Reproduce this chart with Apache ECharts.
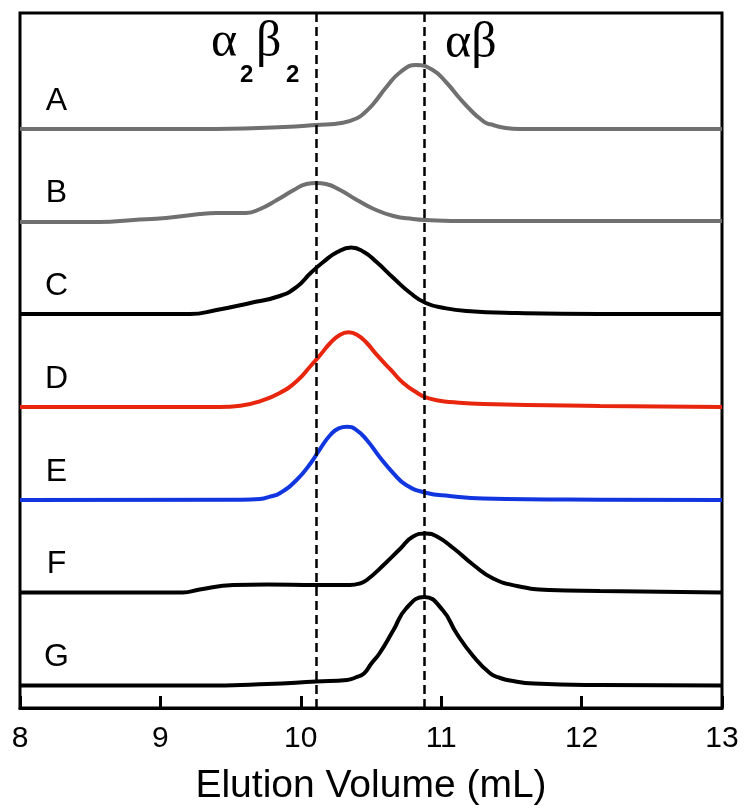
<!DOCTYPE html>
<html>
<head>
<meta charset="utf-8">
<script src="https://cdn.jsdelivr.net/npm/echarts@6/dist/echarts.min.js"></script>
<style>
  html, body { margin: 0; padding: 0; background: #fff; }
  #main { width: 752px; height: 811px; }
</style>
</head>
<body>
<div id="main"></div>
<script>
// elution traces, [volume mL, signal above own baseline]
var traceA = [[8, 0], [9.28, 0], [9.88, 0.02], [10.11, 0.04], [10.30, 0.063], [10.40, 0.107], [10.46, 0.17], [10.52, 0.257], [10.61, 0.42], [10.71, 0.57], [10.82, 0.64], [10.94, 0.59], [11.04, 0.46], [11.13, 0.31], [11.23, 0.16], [11.28, 0.1], [11.32, 0.06], [11.37, 0.04], [11.42, 0.02], [11.56, 0], [13, 0]];
var traceB = [[8, -0.01], [8.57, -0.01], [8.81, 0.01], [9.04, 0.03], [9.28, 0.07], [9.40, 0.08], [9.61, 0.08], [9.71, 0.12], [9.83, 0.21], [9.95, 0.31], [10.04, 0.37], [10.11, 0.38], [10.18, 0.37], [10.28, 0.31], [10.40, 0.21], [10.52, 0.12], [10.66, 0.05], [10.80, 0.02], [10.89, 0.01], [11.18, 0], [13, 0]];
var traceC = [[8, 0], [8.93, 0], [9.21, 0], [9.40, 0.04], [9.64, 0.11], [9.85, 0.18], [9.97, 0.27], [10.07, 0.41], [10.16, 0.52], [10.26, 0.62], [10.36, 0.665], [10.45, 0.62], [10.54, 0.52], [10.66, 0.36], [10.78, 0.21], [10.89, 0.11], [11.02, 0.06], [11.18, 0.03], [11.54, 0.01], [12.13, 0], [13, 0]];
var traceD = [[8, 0], [8.93, 0], [9.42, 0], [9.57, 0.013], [9.71, 0.057], [9.85, 0.14], [9.97, 0.257], [10.07, 0.41], [10.14, 0.523], [10.21, 0.64], [10.28, 0.723], [10.34, 0.747], [10.40, 0.723], [10.47, 0.64], [10.54, 0.523], [10.64, 0.373], [10.73, 0.24], [10.83, 0.14], [10.89, 0.097], [10.99, 0.063], [11.06, 0.05], [11.30, 0.03], [12.13, 0.01], [13, 0]];
var traceE = [[8, 0], [9.57, 0.003], [9.71, 0.01], [9.78, 0.033], [9.85, 0.067], [9.97, 0.2], [10.07, 0.367], [10.14, 0.517], [10.21, 0.65], [10.27, 0.717], [10.33, 0.733], [10.39, 0.707], [10.47, 0.6], [10.56, 0.433], [10.66, 0.267], [10.75, 0.15], [10.89, 0.073], [11.06, 0.04], [11.30, 0.015], [12.13, 0.003], [13, 0]];
var traceF = [[8, 0], [8.57, 0], [9.16, 0], [9.28, 0.03], [9.52, 0.075], [9.76, 0.08], [10.11, 0.075], [10.35, 0.075], [10.42, 0.09], [10.47, 0.125], [10.59, 0.275], [10.71, 0.44], [10.80, 0.56], [10.89, 0.59], [10.97, 0.56], [11.09, 0.44], [11.23, 0.275], [11.37, 0.14], [11.54, 0.065], [11.77, 0.025], [12.13, 0.015], [13, 0]];
var traceG = [[8, 0], [9.28, 0], [9.76, 0.015], [10.11, 0.04], [10.33, 0.055], [10.39, 0.08], [10.45, 0.12], [10.50, 0.215], [10.56, 0.32], [10.66, 0.555], [10.75, 0.77], [10.88, 0.885], [11.01, 0.755], [11.11, 0.52], [11.23, 0.29], [11.35, 0.12], [11.42, 0.075], [11.49, 0.05], [11.66, 0.02], [12.13, 0.005], [13, 0]];

var names = ["A", "B", "C", "D", "E", "F", "G"];
var offsets = [5.79, 4.87, 3.94, 3.01, 2.08, 1.155, 0.225];
var peakLines = [10.11, 10.88]; // α2β2 and αβ
var xTicks = [8, 9, 10, 11, 12, 13];

var traces = [traceA, traceB, traceC, traceD, traceE, traceF, traceG];
var colors = ["#707070", "#707070", "#000000", "#e8260e", "#1136e0", "#000000", "#000000"];
var sans = "Liberation Sans, Arial, sans-serif";
var serif = "Liberation Serif, Times New Roman, serif";

var chart = echarts.init(document.getElementById("main"));

var series = [];
traces.forEach(function (tr, i) {
  var shifted = tr.map(function (p) { return [p[0], p[1] + offsets[i]]; });
  series.push({
    name: names[i],
    type: "line",
    data: shifted,
    smooth: 0.5,
    symbol: "none",
    lineStyle: { color: colors[i], width: 4 },
    silent: true,
    z: 3
  });
});

// trace letters
series.push({
  type: "scatter",
  symbolSize: 0,
  silent: true,
  itemStyle: { opacity: 1 },
  data: names.map(function (n, i) { return { value: [8.26, offsets[i] + 0.28], name: n }; }),
  label: {
    show: true,
    position: "inside",
    formatter: "{b}",
    color: "#000",
    textBorderWidth: 0,
    fontFamily: sans,
    fontSize: 32
  }
});

// dashed reference lines
series.push({
  type: "line",
  data: [],
  markLine: {
    silent: true,
    symbol: "none",
    label: { show: false },
    lineStyle: { color: "#000", type: [9, 5], width: 2.5 },
    data: peakLines.map(function (v) { return { xAxis: v }; })
  }
});

var option = {
  animation: false,
  backgroundColor: "#fff",
  grid: {
    left: 20,
    right: 30,
    top: 13,
    bottom: 103,
    show: true,
    borderColor: "#000",
    borderWidth: 3
  },
  xAxis: {
    type: "value",
    min: 8,
    max: 13,
    interval: 1,
    name: "Elution Volume (mL)",
    nameLocation: "middle",
    nameGap: 59,
    nameTextStyle: { fontFamily: sans, fontSize: 39, color: "#000" },
    axisLine: { show: true, lineStyle: { color: "#000", width: 3 } },
    axisTick: { show: true, inside: true, length: 12, lineStyle: { color: "#000", width: 3 } },
    axisLabel: {
      fontFamily: sans, fontSize: 30, color: "#000", margin: 16,
      formatter: function (v) { return xTicks.indexOf(v) >= 0 ? String(v) : ""; }
    },
    splitLine: { show: false }
  },
  yAxis: {
    type: "value",
    min: 0,
    max: 6.95,
    show: false
  },
  graphic: [
    { type: "text", left: 445, top: 19, style: { text: "αβ", font: "50px " + serif, fill: "#000" } },
    { type: "text", left: 211, top: 18, style: { text: "α", font: "50px " + serif, fill: "#000" } },
    { type: "text", left: 240, top: 63, style: { text: "2", font: "bold 24px " + sans, fill: "#000" } },
    { type: "text", left: 256, top: 18, style: { text: "β", font: "50px " + serif, fill: "#000" } },
    { type: "text", left: 286, top: 63, style: { text: "2", font: "bold 24px " + sans, fill: "#000" } }
  ],
  series: series
};

chart.setOption(option);
</script>
</body>
</html>
